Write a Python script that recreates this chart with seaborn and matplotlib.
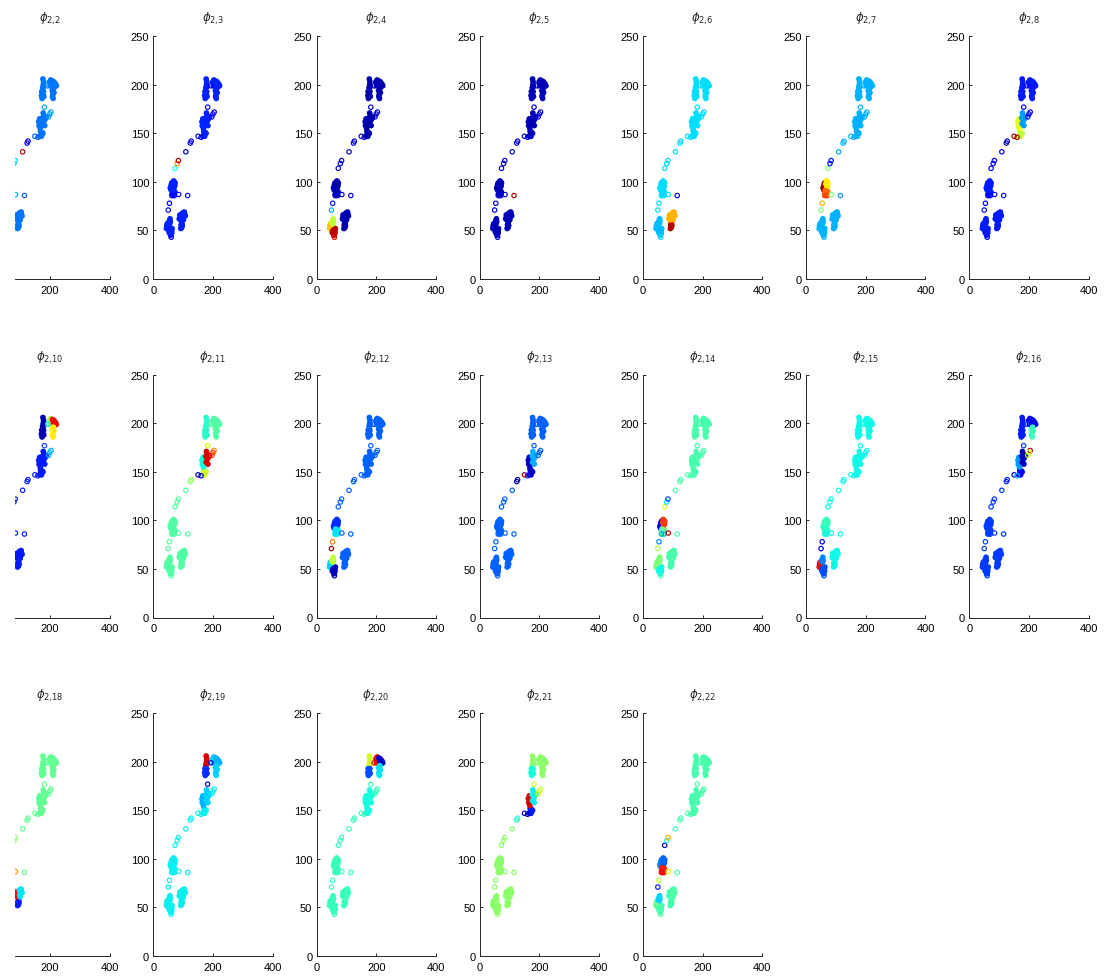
import numpy as np
import pandas as pd
import matplotlib
matplotlib.use("Agg")
import matplotlib.pyplot as plt
import seaborn as sns

# ---------------- data ----------------
# point cloud shared by all panels (x, y) with a group label per point
PX = [45, 48, 50, 47, 44, 51,                  # A_L
      53, 56, 58, 60, 62, 58, 61, 55, 63,      # A_R
      52, 54, 56, 55, 57,                      # A_T
      60,                                      # oA
      92, 95, 97, 93, 96, 94,                  # B_L
      87, 90, 89, 93, 91,                      # B_TL
      99, 102, 105, 98, 101, 104, 107,         # B_TR
      57, 60, 62, 59, 61,                      # C_L
      66, 70, 72, 69, 73, 68,                  # C_R
      63, 66, 70, 72, 64, 68,                  # C_D
      62, 71,                                  # oC
      166, 170, 174, 172, 177, 169,            # D_L
      164, 167, 170, 172, 168, 166, 163,       # D_M
      177, 181, 185, 180, 178, 188, 183, 176,  # D_R
      177, 179, 178, 176, 180,                 # E_T
      173, 172, 174, 177, 179, 180,            # E_L
      199, 203, 206, 201,                      # F_TL
      209, 214, 219, 222, 216, 212,            # F_TR
      208, 210, 211, 214, 212, 209,            # F_L
      193,                                     # oF
      50, 54, 85, 115, 73, 80, 84, 109, 124, 127, 150, 160, 182, 204, 200, 196]
PY = [55, 53, 51, 57, 52, 54,
      48, 47, 45, 46, 48, 50, 50, 50, 52,
      58, 60, 62, 57, 59,
      43,
      52, 53, 55, 56, 58, 54,
      62, 64, 66, 65, 61,
      63, 65, 67, 68, 61, 69, 65,
      94, 97, 99, 92, 95,
      98, 100, 96, 94, 99, 101,
      88, 86, 88, 90, 91, 89,
      86, 86,
      147, 149, 151, 147, 150, 152,
      158, 161, 163, 159, 155, 165, 162,
      160, 163, 165, 168, 171, 167, 158, 166,
      206, 203, 200, 197, 198,
      193, 189, 186, 190, 193, 188,
      203, 205, 200, 199,
      204, 203, 201, 199, 198, 201,
      194, 190, 186, 192, 196, 188,
      199,
      71, 78, 87, 86, 114, 119, 122, 131, 140, 142, 147, 146, 177, 172, 170, 167]
PGROUP = (["A_L"] * 6 + ["A_R"] * 9 + ["A_T"] * 5 + ["oA"]
          + ["B_L"] * 6 + ["B_TL"] * 5 + ["B_TR"] * 7
          + ["C_L"] * 5 + ["C_R"] * 6 + ["C_D"] * 6 + ["oC"] * 2
          + ["D_L"] * 6 + ["D_M"] * 7 + ["D_R"] * 8
          + ["E_T"] * 5 + ["E_L"] * 6
          + ["F_TL"] * 4 + ["F_TR"] * 6 + ["F_L"] * 6 + ["oF"]
          + ["o71", "o78", "o87", "o86", "o114", "o119", "o122", "o131",
             "o140", "o140", "o147", "o146", "o177", "o172", "o170", "o170"])
# groups whose name starts with "o" are drawn as open circles
PFILLED = [0 if g.startswith("o") else 1 for g in PGROUP]

PANEL_TITLES = ["2,2", "2,3", "2,4", "2,5", "2,6", "2,7", "2,8",
                "2,10", "2,11", "2,12", "2,13", "2,14", "2,15", "2,16",
                "2,18", "2,19", "2,20", "2,21", "2,22"]
FILLED_BASE = [0.24, 0.16, 0.04, 0.05, 0.34, 0.30, 0.15,
               0.15, 0.45, 0.22, 0.22, 0.44, 0.37, 0.18,
               0.47, 0.36, 0.42, 0.52, 0.44]
OPEN_BASE = [0.26, 0.12, 0.07, 0.08, 0.34, 0.30, 0.12,
             0.15, 0.45, 0.22, 0.22, 0.44, 0.37, 0.18,
             0.47, 0.36, 0.42, 0.52, 0.44]
PANEL_OVERRIDES = [
    {"o177": 0.29, "o172": 0.29, "o170": 0.28, "o147": 0.22, "o146": 0.22, "o140": 0.08,
     "o131": 0.96, "o122": 0.33, "o119": 0.33, "o114": 0.33, "o87": 0.30, "o86": 0.22},
    {"o122": 0.96, "o119": 0.75, "o114": 0.38, "o131": 0.07, "o140": 0.10},
    {"A_R": 0.95, "A_L": 0.70, "A_T": 0.58, "oA": 0.90, "o71": 0.30, "o78": 0.15},
    {"o86": 0.95},
    {"A_L": 0.31, "A_R": 0.31, "A_T": 0.31, "B_TL": 0.72, "B_TR": 0.72, "B_L": 0.95, "o86": 0.08},
    {"C_L": 0.97, "C_R": 0.66, "C_D": 0.80, "oC": 0.85, "o122": 0.14, "o119": 0.14,
     "o114": 0.50, "o78": 0.72, "o71": 0.50, "o87": 0.50, "o86": 0.28},
    {"D_M": 0.63, "D_L": 0.58, "D_R": 0.28, "o147": 0.95, "o146": 0.95, "o140": 0.05},
    {"E_T": 0.04, "E_L": 0.04, "F_TL": 0.55, "F_TR": 0.90, "F_L": 0.66, "oF": 0.35,
     "o172": 0.30, "o170": 0.30, "o177": 0.20},
    {"E_T": 0.40, "E_L": 0.40, "D_R": 0.92, "D_M": 0.38, "D_L": 0.60, "o147": 0.05,
     "o146": 0.08, "o177": 0.62, "o172": 0.75, "o170": 0.85, "o140": 0.53},
    {"A_R": 0.05, "A_L": 0.33, "A_T": 0.58, "oA": 0.05, "o71": 0.97, "o78": 0.78,
     "C_L": 0.17, "C_R": 0.17, "C_D": 0.35, "oC": 0.35},
    {"D_M": 0.06, "D_L": 0.06, "D_R": 0.30, "o147": 0.95, "o146": 0.15, "o140": 0.04},
    {"C_L": 0.10, "C_R": 0.85, "C_D": 0.48, "oC": 0.30, "o114": 0.62, "o119": 0.35,
     "o122": 0.20, "o87": 0.95, "o78": 0.25, "o71": 0.55, "A_L": 0.50, "A_T": 0.50, "A_R": 0.37},
    {"A_L": 0.90, "A_R": 0.20, "A_T": 0.25, "oA": 0.20, "o71": 0.10, "o78": 0.10,
     "C_L": 0.42, "C_R": 0.42, "C_D": 0.40},
    {"F_L": 0.42, "F_TL": 0.12, "F_TR": 0.10, "E_T": 0.15, "E_L": 0.15, "D_R": 0.05,
     "D_M": 0.28, "D_L": 0.12, "o172": 0.95, "o170": 0.60, "o147": 0.08, "o146": 0.30, "o140": 0.15},
    {"B_TL": 0.90, "B_TR": 0.35, "B_L": 0.15, "o87": 0.75, "o122": 0.52, "o119": 0.52},
    {"E_T": 0.92, "E_L": 0.17, "o177": 0.08, "oF": 0.08, "F_TL": 0.33, "F_TR": 0.30,
     "F_L": 0.33, "D_M": 0.30, "D_R": 0.33},
    {"E_T": 0.60, "E_L": 0.20, "F_TL": 0.90, "F_TR": 0.06, "F_L": 0.35, "D_M": 0.38,
     "D_R": 0.38, "D_L": 0.38, "oF": 0.90},
    {"D_M": 0.92, "D_L": 0.15, "D_R": 0.36, "o147": 0.05, "o146": 0.05, "o177": 0.60,
     "o172": 0.58, "o170": 0.60, "E_L": 0.38, "o140": 0.40},
    {"C_L": 0.25, "C_R": 0.22, "C_D": 0.88, "oC": 0.90, "o87": 0.66, "o114": 0.06,
     "o119": 0.40, "o122": 0.72, "o71": 0.15, "o78": 0.58, "A_T": 0.33, "A_L": 0.48, "A_R": 0.44},
]
PANEL_COLS = [7, 7, 5]

X_TICKS = [0, 200, 400]
Y_TICKS = [0, 50, 100, 150, 200, 250]

# ---------------- style ----------------
sns.set_style("ticks")
plt.rcParams["font.family"] = ["Liberation Sans", "DejaVu Sans"]
plt.rcParams["mathtext.fontset"] = "dejavusans"
JET = matplotlib.colormaps["jet"]

W, H = 1107, 978
fig = plt.figure(figsize=(W / 100, H / 100), dpi=100)

base = pd.DataFrame({"x": PX, "y": PY, "filled": PFILLED, "group": PGROUP})

AX_W = 119.4
AX_H = 242.7
COL_STEP = 163.2
ROW_STEP = 338.5

k = 0
for r, ncols in enumerate(PANEL_COLS):
    for c in range(ncols):
        left_px = 153.3 + (c - 1) * COL_STEP
        bottom_px = 280 + r * ROW_STEP
        xlo = 0.0
        width_px = AX_W
        if c == 0:
            clip_px = 15.0
            xlo = (clip_px - left_px) / AX_W * 400
            width_px = AX_W - (clip_px - left_px)
            left_px = clip_px
        ax = fig.add_axes([left_px / W, (H - bottom_px) / H, width_px / W, AX_H / H])

        df = base.copy()
        vals = np.where(df["filled"] == 1, FILLED_BASE[k], OPEN_BASE[k]).astype(float)
        for g, v in PANEL_OVERRIDES[k].items():
            vals[df["group"].values == g] = v
        df["val"] = vals

        fdf = df[df["filled"] == 1]
        odf = df[df["filled"] == 0]
        sns.scatterplot(data=fdf, x="x", y="y", hue="val", palette=JET,
                        hue_norm=(0, 1), s=17, linewidth=0, legend=False, ax=ax)
        sns.scatterplot(data=odf, x="x", y="y", hue="val", palette=JET,
                        hue_norm=(0, 1), s=10, linewidth=0, legend=False, ax=ax)
        coll = ax.collections[-1]
        fc = coll.get_facecolors()
        coll.set_edgecolors(fc)
        coll.set_facecolors("none")
        coll.set_linewidths(0.85)

        ax.set_xlim(xlo, 400)
        ax.set_ylim(0, 250)
        ax.set_xticks([t for t in X_TICKS if t >= xlo])
        ax.set_yticks(Y_TICKS)
        ax.set_xlabel("")
        ax.set_ylabel("")
        ax.tick_params(direction="in", length=2.5, width=0.7, labelsize=8,
                       colors="#262626", labelcolor="black")
        ax.tick_params(axis="x", pad=4)
        ax.tick_params(axis="y", pad=3)
        for side in ["top", "right"]:
            ax.spines[side].set_visible(False)
        for side in ["left", "bottom"]:
            ax.spines[side].set_linewidth(0.7)
            ax.spines[side].set_color("#262626")
        if c == 0:
            ax.spines["left"].set_visible(False)
            ax.set_yticks([])
        title_x = (200 - xlo) / (400 - xlo)
        sub = PANEL_TITLES[k].replace(",", "{,}")
        ax.set_title(r"$\phi_{" + sub + "}$", fontsize=8.5, x=title_x, pad=11)
        k += 1

fig.savefig("out.png", dpi=100, facecolor="white")
